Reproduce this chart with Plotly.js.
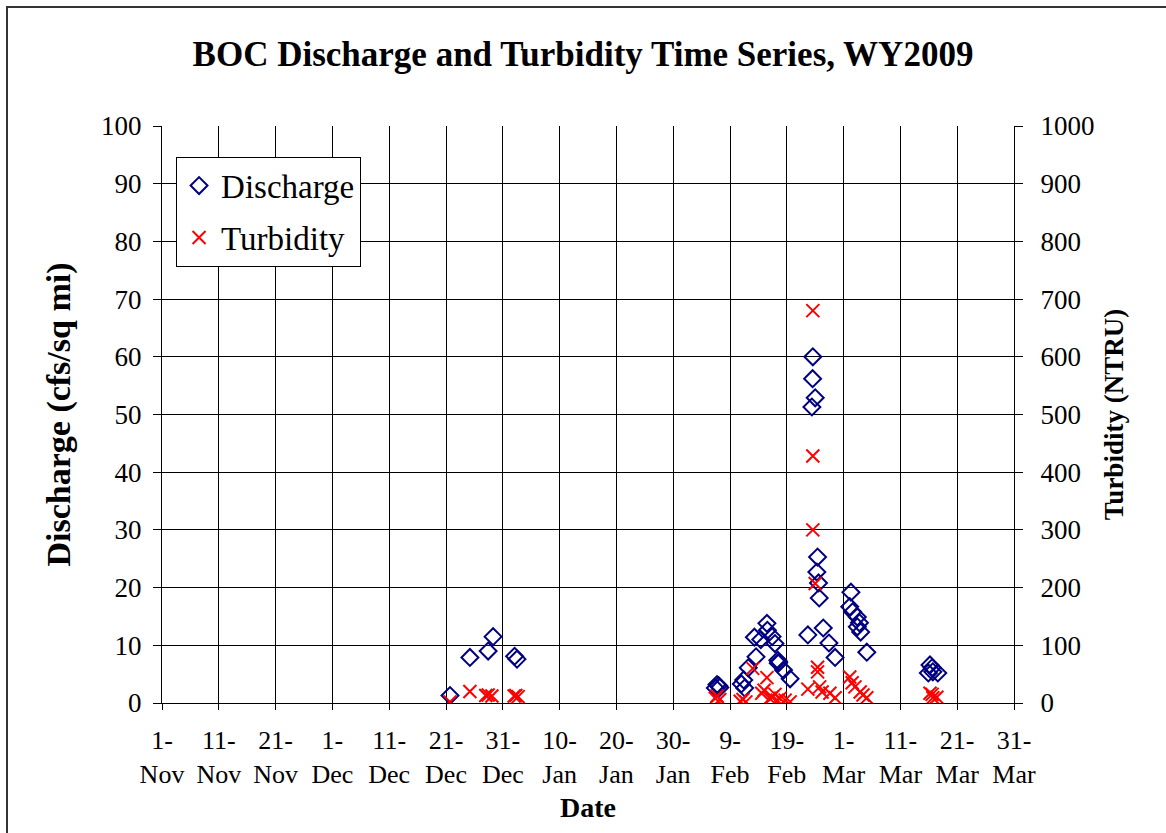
<!DOCTYPE html>
<html>
<head>
<meta charset="utf-8">
<script src="https://cdn.plot.ly/plotly-3.0.1.min.js"></script>
<style>
html,body{margin:0;padding:0;background:#fff;overflow:hidden;}
#frame{position:absolute;left:6px;top:6px;width:1170px;height:840px;border:2px solid #333;box-sizing:border-box;pointer-events:none;z-index:5;}
#chart{position:absolute;left:0;top:0;width:1166px;height:833px;}
</style>
</head>
<body>
<div id="chart"></div>
<div id="frame"></div>
<script>
// Discharge (cfs/sq mi)
const dischargeDates = [
 '2008-12-21 17:00','2008-12-25 05:00','2008-12-28 10:00','2008-12-29 07:00','2009-01-02 02:00','2009-01-02 12:00',
 '2009-02-06 10:00','2009-02-06 17:00','2009-02-07 00:00','2009-02-07 05:00',
 '2009-02-11 00:00','2009-02-11 10:00','2009-02-11 14:00','2009-02-12 05:00',
 '2009-02-13 14:00','2009-02-13 07:00','2009-02-14 10:00','2009-02-15 12:00','2009-02-15 14:00',
 '2009-02-16 10:00','2009-02-16 22:00','2009-02-17 10:00','2009-02-17 12:00','2009-02-17 14:00',
 '2009-02-18 10:00','2009-02-19 14:00',
 '2009-02-22 17:00','2009-02-23 10:00','2009-02-23 14:00','2009-02-23 13:00','2009-02-24 00:00',
 '2009-02-24 10:00','2009-02-24 07:00','2009-02-24 14:00','2009-02-24 17:00',
 '2009-02-25 10:00','2009-02-26 10:00','2009-02-27 12:00',
 '2009-03-02 07:00','2009-03-02 02:00','2009-03-02 14:00','2009-03-03 10:00','2009-03-03 19:00','2009-03-03 10:00','2009-03-04 00:00','2009-03-05 02:00',
 '2009-03-15 22:00','2009-03-16 05:00','2009-03-16 14:00','2009-03-16 17:00','2009-03-17 14:00'
];
const dischargeValues = [
 1.3, 7.9, 9.0, 11.5, 8.1, 7.6,
 2.6, 3.2, 3.0, 2.7,
 3.3, 4.0, 2.6, 6.1,
 8.0, 11.4, 11.0, 13.8, 12.6,
 11.5, 10.3, 7.4, 6.9, 7.1,
 5.7, 4.2,
 11.8, 51.3, 60.0, 56.2, 52.9,
 25.3, 22.7, 20.8, 18.2,
 13.0, 10.4, 7.9,
 19.2, 16.7, 15.8, 14.9, 13.9, 13.2, 12.3, 8.8,
 5.2, 6.6, 6.1, 5.4, 5.2
];
// Turbidity (NTRU)
const turbidityDates = [
 '2008-12-21 17:00','2008-12-25 05:00','2008-12-28 00:00','2008-12-28 10:00','2008-12-29 02:00',
 '2009-01-02 00:00','2009-01-02 07:00','2009-01-02 17:00',
 '2009-02-06 10:00','2009-02-06 17:00','2009-02-07 05:00',
 '2009-02-10 19:00','2009-02-11 07:00','2009-02-11 19:00',
 '2009-02-13 00:00','2009-02-14 14:00','2009-02-15 00:00','2009-02-15 12:00',
 '2009-02-16 00:00','2009-02-16 10:00','2009-02-16 22:00','2009-02-17 07:00','2009-02-17 19:00',
 '2009-02-18 17:00','2009-02-19 14:00',
 '2009-02-22 17:00','2009-02-23 14:00','2009-02-23 14:00','2009-02-23 14:00','2009-02-24 00:00',
 '2009-02-24 10:00','2009-02-24 10:00','2009-02-24 19:00','2009-02-25 05:00','2009-02-26 14:00','2009-02-27 12:00',
 '2009-03-02 02:00','2009-03-02 12:00','2009-03-03 00:00','2009-03-03 22:00','2009-03-04 10:00','2009-03-05 02:00',
 '2009-03-16 05:00','2009-03-16 14:00','2009-03-16 17:00','2009-03-17 10:00'
];
const turbidityValues = [
 2, 20, 13, 14, 12,
 12, 13, 11,
 8, 12, 6,
 3, 6, 2,
 60, 17, 22, 44,
 8, 10, 15, 5, 8,
 5, 2,
 24, 680, 428, 300, 207,
 62, 54, 28, 19, 17, 9,
 45, 35, 28, 19, 14, 9,
 17, 15, 9, 10
];
const tickDates = ['2008-11-01','2008-11-11','2008-11-21','2008-12-01','2008-12-11','2008-12-21','2008-12-31',
 '2009-01-10','2009-01-20','2009-01-30','2009-02-09','2009-02-19','2009-03-01','2009-03-11','2009-03-21','2009-03-31'];
const tickLabels = ['1-<br>Nov','11-<br>Nov','21-<br>Nov','1-<br>Dec','11-<br>Dec','21-<br>Dec','31-<br>Dec',
 '10-<br>Jan','20-<br>Jan','30-<br>Jan','9-<br>Feb','19-<br>Feb','1-<br>Mar','11-<br>Mar','21-<br>Mar','31-<br>Mar'];

const FONT = 'Liberation Serif, Times New Roman, serif';

const traces = [
 {x: dischargeDates, y: dischargeValues, name: 'Discharge', type: 'scatter', mode: 'markers',
  legendgroup: 'a',
  marker: {symbol: 'diamond-open', size: 13, color: '#000080', line: {width: 2, color: '#000080'}}},
 {x: turbidityDates, y: turbidityValues, name: 'Turbidity', type: 'scatter', mode: 'markers',
  yaxis: 'y2', legendgroup: 'b',
  marker: {symbol: 'x-thin-open', size: 13, color: '#ff0000', line: {width: 2, color: '#ff0000'}}}
];

const layout = {
 width: 1166, height: 833,
 margin: {l: 162, r: 152, t: 126, b: 130},
 paper_bgcolor: '#fff', plot_bgcolor: '#fff',
 font: {family: FONT, color: '#000', size: 26},
 title: {text: '<b>BOC Discharge and Turbidity Time Series, WY2009</b>', font: {family: FONT, size: 35, color: '#000'},
  x: 0.5, xanchor: 'center', y: 0.935, yanchor: 'middle'},
 showlegend: true,
 legend: {x: 0.0165, y: 0.947, xanchor: 'left', yanchor: 'top', bgcolor: '#fff', bordercolor: '#000', borderwidth: 1,
  font: {family: FONT, size: 33, color: '#000'}, traceorder: 'grouped', tracegroupgap: 6, itemwidth: 34},
 xaxis: {type: 'date', range: ['2008-11-01', '2009-03-31'], tickmode: 'array', tickvals: tickDates, ticktext: tickLabels,
  showgrid: true, gridcolor: '#000', gridwidth: 1, showline: true, linecolor: '#000', linewidth: 1,
  ticks: 'outside', ticklen: 6, tickcolor: '#000', tickangle: 0, zeroline: false, ticklabelstandoff: 8,
  tickfont: {family: FONT, size: 26, color: '#000'},
  title: {text: '<b>Date</b>', font: {family: FONT, size: 28, color: '#000'}, standoff: 9}},
 yaxis: {range: [0, 100], dtick: 10, tick0: 0, showgrid: true, gridcolor: '#000', gridwidth: 1, showline: true,
  linecolor: '#000', linewidth: 1, ticks: 'outside', ticklen: 8, tickcolor: '#000', zeroline: false, ticklabelstandoff: 6,
  tickfont: {family: FONT, size: 27, color: '#000'},
  title: {text: '<b>Discharge (cfs/sq mi)</b>', font: {family: FONT, size: 34, color: '#000'}, standoff: 20}},
 yaxis2: {range: [0, 1000], dtick: 100, tick0: 0, overlaying: 'y', side: 'right', showgrid: false, showline: true,
  linecolor: '#000', linewidth: 1, ticks: 'outside', ticklen: 8, tickcolor: '#000', zeroline: false, ticklabelstandoff: 12,
  tickfont: {family: FONT, size: 27, color: '#000'},
  title: {text: '<b>Turbidity (NTRU)</b>', font: {family: FONT, size: 27, color: '#000'}, standoff: 10}}
};

Plotly.newPlot('chart', traces, layout, {displayModeBar: false, staticPlot: true});
</script>
</body>
</html>
